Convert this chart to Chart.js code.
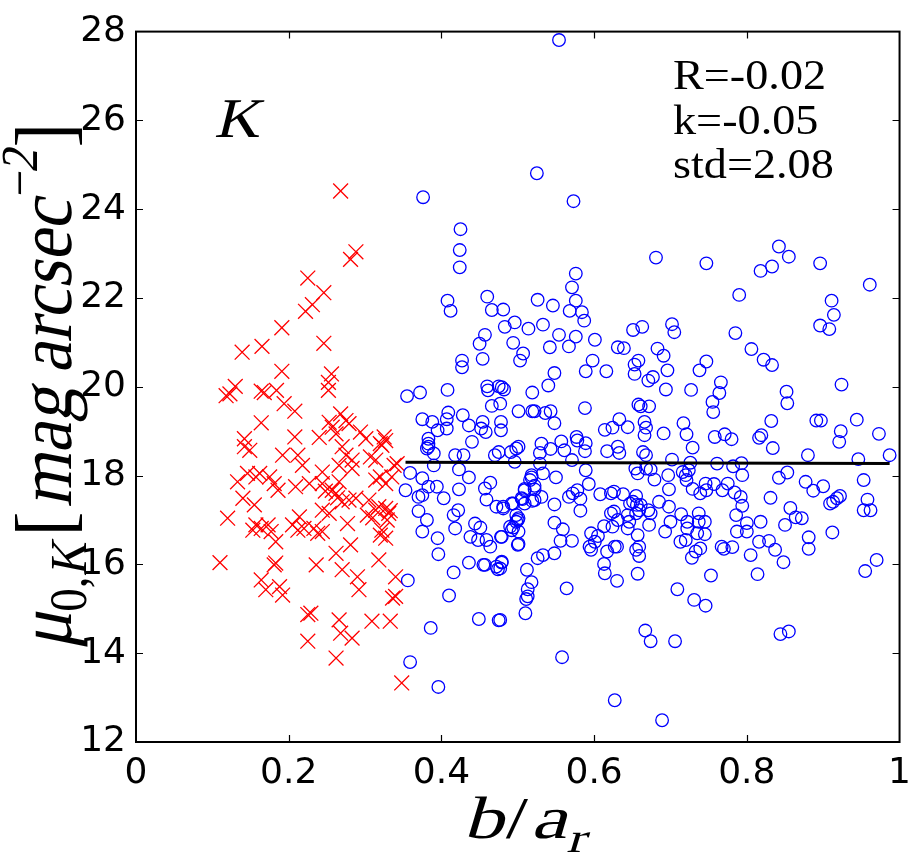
<!DOCTYPE html>
<html><head><meta charset="utf-8">
<script src="https://cdn.jsdelivr.net/npm/chart.js@4.4.0/dist/chart.umd.min.js"></script>
<style>html,body{margin:0;padding:0;background:#fff;}canvas{display:block;}</style>
</head><body>
<canvas id="c" width="921" height="865"></canvas>
<script>
const xTicks=[0,0.2,0.4,0.6,0.8,1];
const xTickLabels=['0','0.2','0.4','0.6','0.8','1'];
const yTicks=[12,14,16,18,20,22,24,26,28];
const yTickLabels=['12','14','16','18','20','22','24','26','28'];

const redX=[0.268,0.288,0.281,0.225,0.246,0.231,0.222,0.191,0.246,0.139,
0.165,0.191,0.256,0.252,0.252,0.123,0.130,0.118,0.164,0.168,
0.184,0.194,0.208,0.164,0.268,0.275,0.253,0.257,0.262,0.240,
0.208,0.142,0.294,0.301,0.325,0.327,0.320,0.142,0.149,0.192,
0.212,0.218,0.270,0.275,0.283,0.307,0.314,0.322,0.338,0.244,
0.133,0.146,0.157,0.162,0.175,0.181,0.186,0.227,0.244,0.257,
0.266,0.279,0.288,0.262,0.270,0.305,0.314,0.320,0.327,0.335,
0.342,0.140,0.155,0.120,0.214,0.244,0.253,0.303,0.314,0.327,
0.331,0.329,0.157,0.164,0.173,0.177,0.153,0.183,0.205,0.212,
0.220,0.233,0.238,0.244,0.277,0.281,0.262,0.270,0.320,0.327,
0.322,0.110,0.183,0.181,0.236,0.318,0.164,0.170,0.188,0.192,
0.290,0.292,0.340,0.336,0.340,0.225,0.229,0.266,0.268,0.283,
0.309,0.333,0.225,0.262,0.348,0.266,0.283,0.279,0.209,0.248,
0.264,0.318,0.333,0.310];
const redY=[24.41,23.04,22.87,22.45,22.12,21.85,21.70,21.33,20.98,20.78,
20.91,20.35,20.29,20.10,19.92,19.84,20.01,19.80,19.90,19.87,
19.92,19.62,19.45,19.19,19.39,19.24,19.20,19.09,18.94,18.86,
18.87,18.83,18.98,18.83,18.87,18.79,18.72,18.65,18.57,18.46,
18.46,18.23,18.65,18.46,18.35,18.42,18.35,18.68,18.23,18.08,
17.86,18.05,17.97,18.05,17.97,17.82,17.67,17.82,17.82,17.67,
17.86,17.45,17.49,17.60,17.41,17.45,17.90,17.97,17.82,17.97,
18.27,17.49,17.34,17.04,17.07,17.22,17.15,17.11,17.22,17.26,
17.15,17.00,16.89,16.81,16.89,16.74,16.77,16.51,16.89,16.77,
16.81,16.81,16.70,16.74,16.92,16.44,16.25,15.88,16.66,16.59,
16.77,16.04,16.03,15.99,15.99,16.10,15.65,15.43,15.50,15.31,
15.72,15.43,15.72,15.24,15.28,14.87,14.90,14.75,14.45,14.34,
14.72,14.72,14.27,13.89,13.33,18.23,18.16,19.17,17.75,17.65,
17.50,17.30,17.21,17.05];

const blueX=[0.376,0.425,0.424,0.424,0.408,0.412,0.460,0.466,0.481,0.496,
0.483,0.457,0.450,0.494,0.454,0.427,0.427,0.503,0.507,0.514,
0.554,0.525,0.573,0.681,0.747,0.842,0.855,0.833,0.818,0.896,
0.961,0.790,0.911,0.914,0.896,0.908,0.576,0.571,0.576,0.568,
0.584,0.587,0.526,0.546,0.533,0.554,0.576,0.567,0.542,0.601,
0.598,0.589,0.616,0.631,0.639,0.651,0.663,0.702,0.705,0.683,
0.691,0.653,0.658,0.653,0.696,0.747,0.738,0.785,0.806,0.822,
0.833,0.548,0.540,0.694,0.671,0.677,0.727,0.766,0.764,0.755,
0.756,0.852,0.853,0.924,0.479,0.482,0.460,0.461,0.475,0.477,
0.478,0.478,0.519,0.501,0.519,0.522,0.536,0.543,0.548,0.588,
0.614,0.624,0.633,0.644,0.658,0.661,0.672,0.666,0.668,0.666,
0.691,0.717,0.721,0.729,0.758,0.771,0.780,0.816,0.819,0.834,
0.832,0.891,0.897,0.944,0.923,0.921,0.973,0.880,0.946,0.987,
0.491,0.501,0.496,0.531,0.543,0.557,0.561,0.571,0.577,0.578,
0.589,0.588,0.529,0.529,0.518,0.617,0.631,0.633,0.664,0.668,
0.702,0.726,0.761,0.793,0.782,0.654,0.657,0.668,0.674,0.679,
0.697,0.698,0.589,0.593,0.578,0.572,0.567,0.582,0.582,0.550,
0.518,0.522,0.522,0.509,0.506,0.519,0.531,0.716,0.720,0.724,
0.721,0.729,0.739,0.746,0.747,0.757,0.768,0.775,0.784,0.794,
0.792,0.794,0.842,0.853,0.831,0.877,0.887,0.900,0.909,0.913,
0.918,0.922,0.953,0.958,0.953,0.962,0.857,0.864,0.872,0.850,
0.912,0.881,0.881,0.970,0.955,0.848,0.837,0.829,0.816,0.805,
0.814,0.818,0.800,0.800,0.787,0.786,0.753,0.767,0.781,0.770,
0.737,0.737,0.745,0.735,0.745,0.739,0.733,0.728,0.714,0.722,
0.722,0.720,0.713,0.700,0.698,0.693,0.709,0.731,0.746,0.671,
0.685,0.674,0.672,0.647,0.651,0.656,0.661,0.659,0.655,0.644,
0.646,0.644,0.657,0.622,0.626,0.638,0.655,0.608,0.622,0.626,
0.631,0.624,0.613,0.605,0.596,0.594,0.596,0.601,0.617,0.627,
0.630,0.613,0.614,0.630,0.655,0.659,0.659,0.657,0.667,0.674,
0.706,0.627,0.689,0.558,0.564,0.510,0.511,0.513,0.513,0.518,
0.512,0.526,0.533,0.548,0.556,0.571,0.559,0.548,0.477,0.479,
0.477,0.501,0.492,0.501,0.490,0.498,0.501,0.479,0.481,0.494,
0.844,0.855,0.359,0.353,0.375,0.370,0.375,0.383,0.394,0.403,
0.370,0.381,0.375,0.395,0.396,0.356,0.386,0.359,0.396,0.410,
0.416,0.416,0.422,0.418,0.423,0.423,0.436,0.390,0.390,0.383,
0.418,0.429,0.436,0.455,0.457,0.472,0.474,0.479,0.438,0.444,
0.451,0.448,0.459,0.464,0.478,0.449,0.475,0.457,0.464,0.459,
0.472,0.481,0.492,0.498,0.500,0.494,0.500,0.505,0.509,0.516,
0.522,0.533,0.548,0.440,0.470,0.475,0.498,0.355,0.372,0.408,
0.466,0.375,0.388,0.395,0.407,0.409,0.407,0.428,0.436,0.454,
0.452,0.458,0.383,0.383,0.381,0.509];
const blueY=[24.27,23.55,23.08,22.69,21.94,21.71,22.03,21.73,21.74,21.45,
21.35,21.17,20.97,20.99,20.63,20.59,20.44,20.59,20.75,21.31,
27.81,24.81,24.18,22.91,22.78,23.16,22.93,22.71,22.61,22.78,
22.30,22.07,21.94,21.62,21.38,21.30,22.55,22.24,21.94,21.71,
21.68,21.49,21.96,21.83,21.40,21.17,21.13,20.91,20.89,21.06,
20.59,20.35,20.35,20.89,20.87,21.28,21.35,21.41,21.23,20.86,
20.70,20.50,20.59,20.29,20.37,20.57,20.37,21.21,20.85,20.61,
20.49,20.31,20.03,19.94,20.14,20.22,19.93,20.10,19.86,19.66,
19.43,19.89,19.63,20.05,19.99,19.94,20.01,19.92,20.01,19.62,
19.21,19.02,19.87,19.45,19.45,19.45,19.41,19.45,19.18,19.52,
19.03,19.08,19.27,19.09,19.60,19.56,19.56,19.21,19.08,18.91,
18.95,19.18,18.93,18.63,18.87,18.93,18.82,18.85,18.91,18.62,
19.23,19.24,19.24,19.26,19.00,18.76,18.94,18.46,18.37,18.46,
18.53,18.65,18.31,18.72,18.60,18.77,18.57,18.35,18.87,18.79,
18.73,18.55,18.51,18.27,18.01,18.55,18.65,18.51,18.53,18.46,
18.36,18.29,18.27,18.28,18.21,18.16,18.05,18.16,18.14,17.91,
18.01,17.69,18.12,17.81,17.67,17.60,17.52,17.48,17.21,17.96,
17.96,17.77,17.69,17.70,17.47,17.43,17.52,18.08,18.01,18.12,
17.90,17.70,17.60,17.82,17.67,17.81,17.67,17.82,17.62,18.01,
17.52,17.32,17.95,18.07,17.50,17.86,17.66,17.76,17.37,17.41,
17.49,17.54,17.90,17.46,17.22,17.22,17.27,17.06,17.04,16.89,
16.72,16.61,16.35,16.10,15.85,16.05,16.33,16.53,16.51,16.21,
15.78,16.96,16.93,16.74,16.74,17.11,15.75,16.40,16.39,16.35,
17.15,16.96,16.96,16.70,16.68,16.36,16.29,16.15,17.13,16.96,
16.81,16.55,16.51,16.96,17.30,16.74,15.44,15.20,15.07,17.22,
17.41,17.15,16.89,17.37,17.41,17.34,17.34,17.22,17.15,17.11,
16.96,16.81,16.66,17.60,17.64,17.58,17.54,17.58,17.15,17.19,
17.00,16.85,16.86,16.64,16.70,16.40,16.33,16.51,16.29,16.40,
16.40,16.01,15.80,15.63,16.33,16.40,16.19,15.79,14.51,14.27,
14.27,12.94,12.49,13.91,15.46,14.90,15.22,15.28,15.44,15.60,
15.88,16.14,16.21,16.25,16.53,16.53,16.79,16.94,14.75,16.06,
15.91,16.46,16.77,16.74,16.85,16.96,17.04,16.62,17.30,17.37,
14.43,14.49,18.06,17.67,17.94,17.52,17.56,17.75,17.75,17.49,
17.20,17.00,16.74,16.59,16.23,15.64,14.57,13.80,13.24,15.30,
15.82,17.11,17.22,16.81,17.69,18.14,17.96,18.23,18.50,18.65,
18.46,18.46,16.04,15.99,15.99,15.95,15.89,16.04,16.62,16.92,
16.83,16.55,16.55,16.40,16.62,14.77,14.74,17.71,17.84,17.46,
17.30,17.26,17.37,17.11,17.00,16.83,16.44,17.49,17.67,17.90,
17.45,18.05,17.35,18.76,18.46,18.53,18.61,19.79,19.87,19.93,
19.57,19.27,19.21,19.02,19.27,19.42,19.06,19.36,19.13,19.21,
19.06,18.98,18.83,18.72,18.61,17.37];

const fitX=[0.353,0.987];
const fitY=[18.30,18.27];
const statsLines=['R=-0.02','k=-0.05','std=2.08'];
const panelLabel='K';

function toPts(xs,ys){const n=Math.min(xs.length,ys.length);const o=[];for(let i=0;i<n;i++)o.push({x:xs[i],y:ys[i]});return o;}

const SKEW=-0.22;
function drawRich(ctx,segs,x,y,angle,targetLen,across){
  ctx.save();
  ctx.translate(x,y);ctx.rotate(angle);
  let total=0;
  const ws=segs.map(s=>{ctx.font=s.font;const w=ctx.measureText(s.t).width+(s.pre||0)+(s.post||0);total+=w;return w;});
  const sx=targetLen?targetLen/total:1;
  ctx.scale(sx,across||1);
  let cx=-total/2;
  ctx.textBaseline='alphabetic';ctx.textAlign='left';ctx.fillStyle='#000';
  segs.forEach((s,i)=>{
    ctx.save();
    ctx.font=s.font;
    ctx.translate(cx+(s.pre||0),s.dy||0);
    if(s.it) ctx.transform(1,0,SKEW,1,0,0);
    ctx.fillText(s.t,0,0);
    ctx.restore();
    cx+=ws[i];
  });
  ctx.restore();
}

const SERIF='"Liberation Serif"';
const decor={
  id:'decor',
  afterDatasetsDraw(chart){
    const {ctx,chartArea:a,scales}=chart;
    const xs=scales.x, ys=scales.y;
    ctx.save();
    ctx.strokeStyle='#000';ctx.lineWidth=1.2;
    ctx.beginPath();
    xTicks.forEach(v=>{
      if(v<=xs.min||v>=xs.max) return;
      const p=Math.round(xs.getPixelForValue(v))+0.5;
      ctx.moveTo(p,a.bottom);ctx.lineTo(p,a.bottom-7);
      ctx.moveTo(p,a.top);ctx.lineTo(p,a.top+7);
    });
    yTicks.forEach(v=>{
      if(v<=ys.min||v>=ys.max) return;
      const p=Math.round(ys.getPixelForValue(v))+0.5;
      ctx.moveTo(a.left,p);ctx.lineTo(a.left+7,p);
      ctx.moveTo(a.right,p);ctx.lineTo(a.right-7,p);
    });
    ctx.stroke();
    ctx.lineWidth=2;
    ctx.strokeRect(a.left,a.top,a.right-a.left,a.bottom-a.top);
    ctx.fillStyle='#000';
    ctx.textBaseline='alphabetic';ctx.textAlign='left';
    // panel label (italic via skew)
    ctx.save();ctx.translate(214,137);ctx.scale(1.12,1);ctx.transform(1,0,SKEW,1,0,0);
    ctx.font='56px '+SERIF;
    ctx.fillText(panelLabel,0,0);ctx.restore();
    // stats
    statsLines.forEach((t,i)=>{
      ctx.save();ctx.translate(673,89+i*44.5);ctx.scale(1.1,1);
      ctx.font='42px '+SERIF;
      ctx.fillText(t,0,0);ctx.restore();
    });
    ctx.restore();
    // axis titles
    drawRich(ctx,[
      {t:'b',font:'60px '+SERIF,it:true,post:2},
      {t:'/',font:'60px '+SERIF,it:false,post:2},
      {t:'a',font:'60px '+SERIF,it:true},
      {t:'r',font:'42px '+SERIF,it:true,dy:14}
    ],524,838,0,122,1);
    drawRich(ctx,[
      {t:'\u03bc',font:'68px '+SERIF,it:true},
      {t:'0,',font:'46px '+SERIF,dy:13},
      {t:'K',font:'46px '+SERIF,it:true,dy:13},
      {t:'[',font:'72px '+SERIF,pre:6,post:4},
      {t:'mag',font:'68px '+SERIF,it:true,post:14},
      {t:'arcsec',font:'68px '+SERIF,it:true},
      {t:'\u22122',font:'46px '+SERIF,it:true,dy:-30},
      {t:']',font:'72px '+SERIF,pre:2}
    ],71,386,-Math.PI/2,526,1.13);
  }
};

new Chart(document.getElementById('c'),{
  type:'scatter',
  data:{datasets:[
    {label:'fit',type:'line',data:toPts(fitX,fitY),borderColor:'#000',borderWidth:3,pointRadius:0,fill:false,order:0,showLine:true},
    {label:'b/a>0.35',data:toPts(blueX,blueY),pointStyle:'circle',pointRadius:6.3,borderColor:'#0000ff',backgroundColor:'rgba(0,0,0,0)',borderWidth:1.3,order:1},
    {label:'b/a<0.35',data:toPts(redX,redY),pointStyle:'crossRot',pointRadius:10.5,borderColor:'#ff0000',backgroundColor:'#ff0000',borderWidth:1.3,order:2}
  ]},
  options:{
    responsive:false,animation:false,devicePixelRatio:1,
    layout:{padding:{top:30,right:18,left:0,bottom:0}},
    plugins:{legend:{display:false},tooltip:{enabled:false}},
    scales:{
      x:{type:'linear',min:0,max:1,
        afterBuildTicks:s=>{s.ticks=xTicks.map(v=>({value:v}));},
        afterFit:s=>{s.height=123;},
        grid:{display:false,drawTicks:false},border:{display:false},
        ticks:{autoSkip:false,maxRotation:0,padding:10,color:'#000',font:{family:'"DejaVu Sans"',size:36},
          callback:(v,i)=>xTickLabels[i]}},
      y:{type:'linear',min:12,max:28,
        afterBuildTicks:s=>{s.ticks=yTicks.map(v=>({value:v}));},
        afterFit:s=>{s.width=136;},
        grid:{display:false,drawTicks:false},border:{display:false},
        ticks:{autoSkip:false,padding:10,color:'#000',font:{family:'"DejaVu Sans"',size:36},
          callback:(v,i)=>yTickLabels[i]}}
    }
  },
  plugins:[decor]
});
</script>
</body></html>
